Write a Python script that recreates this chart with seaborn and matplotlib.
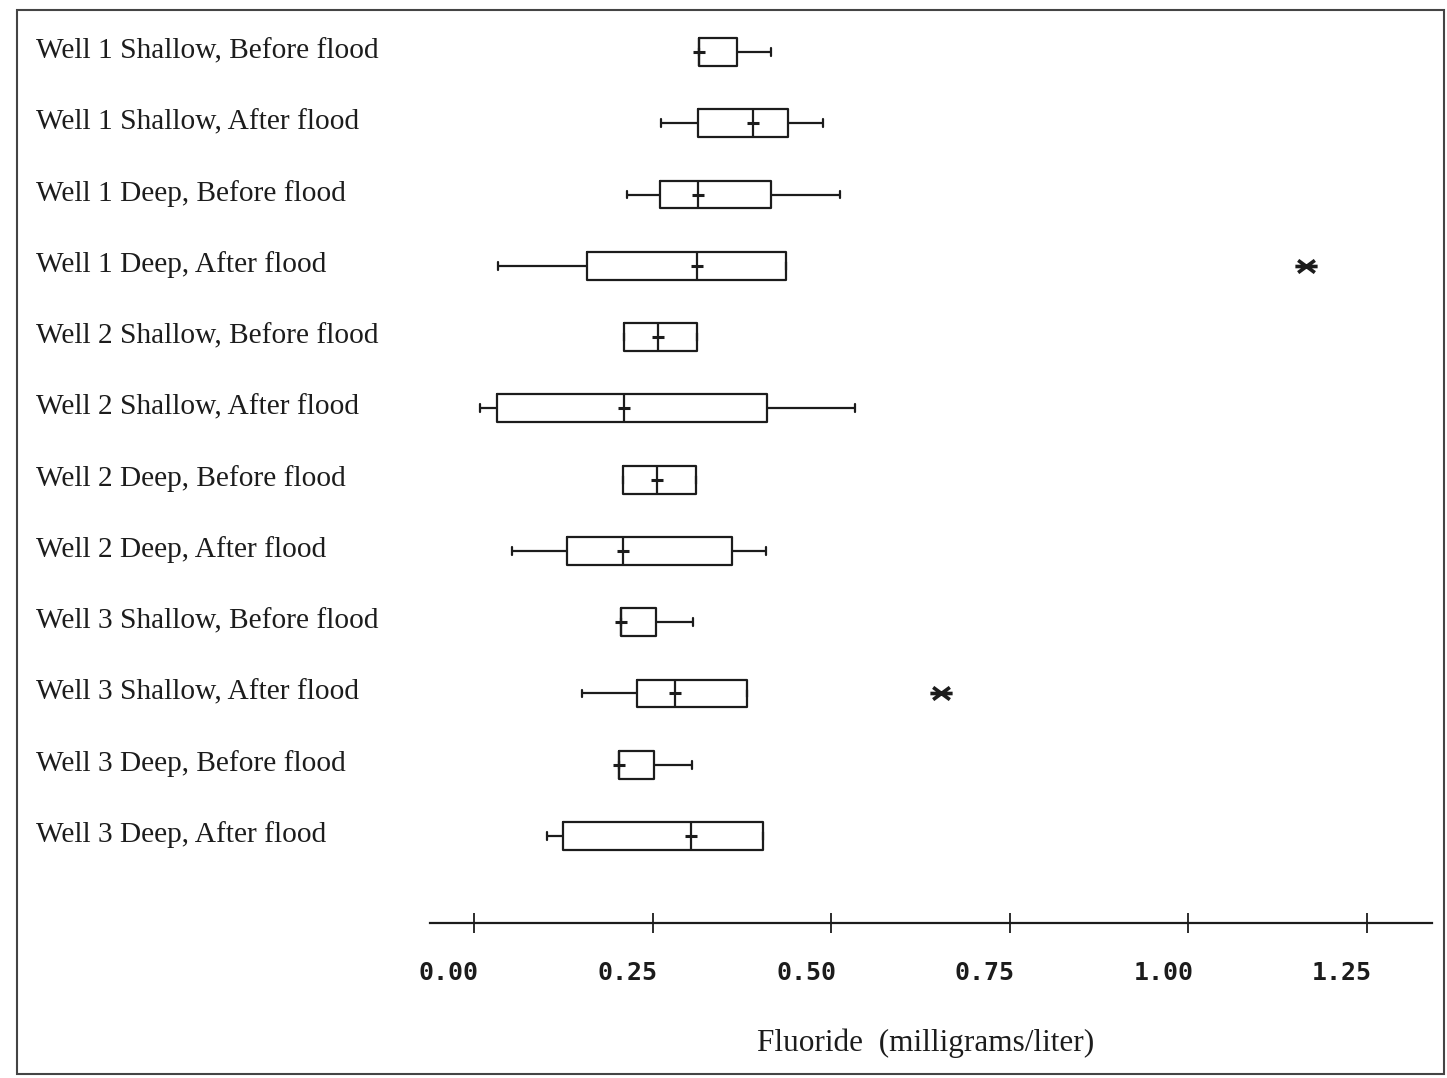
import numpy as np
import pandas as pd
import matplotlib
matplotlib.use("Agg")
import matplotlib.pyplot as plt
import matplotlib.transforms as mtransforms
from matplotlib.patches import Rectangle
from matplotlib.path import Path
import seaborn as sns

# ---- data ----
groups = [
    "Well 1 Shallow, Before flood",
    "Well 1 Shallow, After flood",
    "Well 1 Deep, Before flood",
    "Well 1 Deep, After flood",
    "Well 2 Shallow, Before flood",
    "Well 2 Shallow, After flood",
    "Well 2 Deep, Before flood",
    "Well 2 Deep, After flood",
    "Well 3 Shallow, Before flood",
    "Well 3 Shallow, After flood",
    "Well 3 Deep, Before flood",
    "Well 3 Deep, After flood",
]
whisker_low = [0.315, 0.262, 0.214, 0.034, 0.210, 0.008, 0.209, 0.053, 0.206, 0.151, 0.203, 0.102]
q1          = [0.315, 0.314, 0.260, 0.158, 0.210, 0.032, 0.209, 0.130, 0.206, 0.228, 0.203, 0.125]
median      = [0.315, 0.391, 0.314, 0.312, 0.258, 0.210, 0.256, 0.209, 0.206, 0.281, 0.203, 0.304]
q3          = [0.368, 0.440, 0.416, 0.437, 0.312, 0.410, 0.311, 0.361, 0.255, 0.382, 0.252, 0.405]
whisker_high= [0.416, 0.489, 0.512, 0.437, 0.312, 0.533, 0.311, 0.409, 0.307, 0.382, 0.305, 0.405]
outlier_groups = ["Well 1 Deep, After flood", "Well 3 Shallow, After flood"]
outlier_values = [1.165, 0.654]

tick_values = [0.00, 0.25, 0.50, 0.75, 1.00, 1.25]
tick_labels = ["0.00", "0.25", "0.50", "0.75", "1.00", "1.25"]
x_label = "Fluoride  (milligrams/liter)"

# long table whose quartiles reproduce the five-number summaries
rows = []
for g, a, b, c, d, e in zip(groups, whisker_low, q1, median, q3, whisker_high):
    for v in (a, b, c, d, e):
        rows.append({"group": g, "value": v})
df = pd.DataFrame(rows)
med_df = pd.DataFrame({"group": groups, "value": median})
out_df = pd.DataFrame({"group": outlier_groups, "value": outlier_values})

sns.set_style("white")
plt.rcParams["font.family"] = ["DejaVu Sans"]

W, H = 1447, 1078
fig = plt.figure(figsize=(W / 100, H / 100), dpi=100)
ax = fig.add_axes([430 / W, 1 - 923 / H, 1002 / W, (923 - 10) / H])

ink = "#1c1c1c"
# flattened six-armed asterisk used for outliers
star = Path([(-1, 0), (1, 0), (-0.75, -0.55), (0.75, 0.55), (-0.75, 0.55), (0.75, -0.55)],
            [Path.MOVETO, Path.LINETO, Path.MOVETO, Path.LINETO, Path.MOVETO, Path.LINETO])

sns.boxplot(data=df, x="value", y="group", order=groups, orient="h",
            whis=(0, 100), fill=False, width=0.39, color=ink, linecolor=ink,
            linewidth=1.6, capwidths=0.11, ax=ax)
sns.stripplot(data=med_df, x="value", y="group", order=groups, orient="h",
              jitter=False, marker="_", size=8, linewidth=2.2, color=ink,
              edgecolor=ink, ax=ax)
sns.stripplot(data=out_df, x="value", y="group", order=groups, orient="h",
              jitter=False, marker=star, size=16, linewidth=2.6,
              color=ink, edgecolor=ink, ax=ax)

x0 = (430 - 474) / 714.4
x1 = (1432 - 474) / 714.4
ax.set_xlim(x0, x1)
ax.set_ylim((923 - 52) / 71.27, (10 - 52) / 71.27)

for s in ("left", "right", "top"):
    ax.spines[s].set_visible(False)
ax.spines["bottom"].set_linewidth(1.6)
ax.spines["bottom"].set_color(ink)

ax.set_xticks(tick_values)
ax.set_xticklabels(tick_labels, family="DejaVu Sans Mono", fontweight="bold",
                   fontsize=18, color=ink)
ax.tick_params(axis="x", bottom=True, direction="inout", length=15, width=1.3,
               color=ink, pad=20)
off = mtransforms.ScaledTranslation(0.05, 0, fig.dpi_scale_trans)
for lbl in ax.get_xticklabels():
    lbl.set_ha("right")
    lbl.set_transform(lbl.get_transform() + off)

ax.set_ylabel("")
ax.tick_params(axis="y", left=False, length=0, pad=284)
offy = mtransforms.ScaledTranslation(0, 0.04, fig.dpi_scale_trans)
for lbl in ax.get_yticklabels():
    lbl.set_ha("left")
    lbl.set_fontfamily("Liberation Serif")
    lbl.set_fontsize(21.2)
    lbl.set_color(ink)
    lbl.set_transform(lbl.get_transform() + offy)

ax.set_xlabel(x_label, family="Liberation Serif", fontsize=22.5, color=ink)
ax.xaxis.set_label_coords((926 - 430) / 1002, -(1028 - 923) / 913)

fig.add_artist(Rectangle((17 / W, 1 - 1074 / H), (1444 - 17) / W, (1074 - 10) / H,
                         transform=fig.transFigure, fill=False, lw=1.5, ec="#444444"))

fig.savefig("out.png", dpi=100)
